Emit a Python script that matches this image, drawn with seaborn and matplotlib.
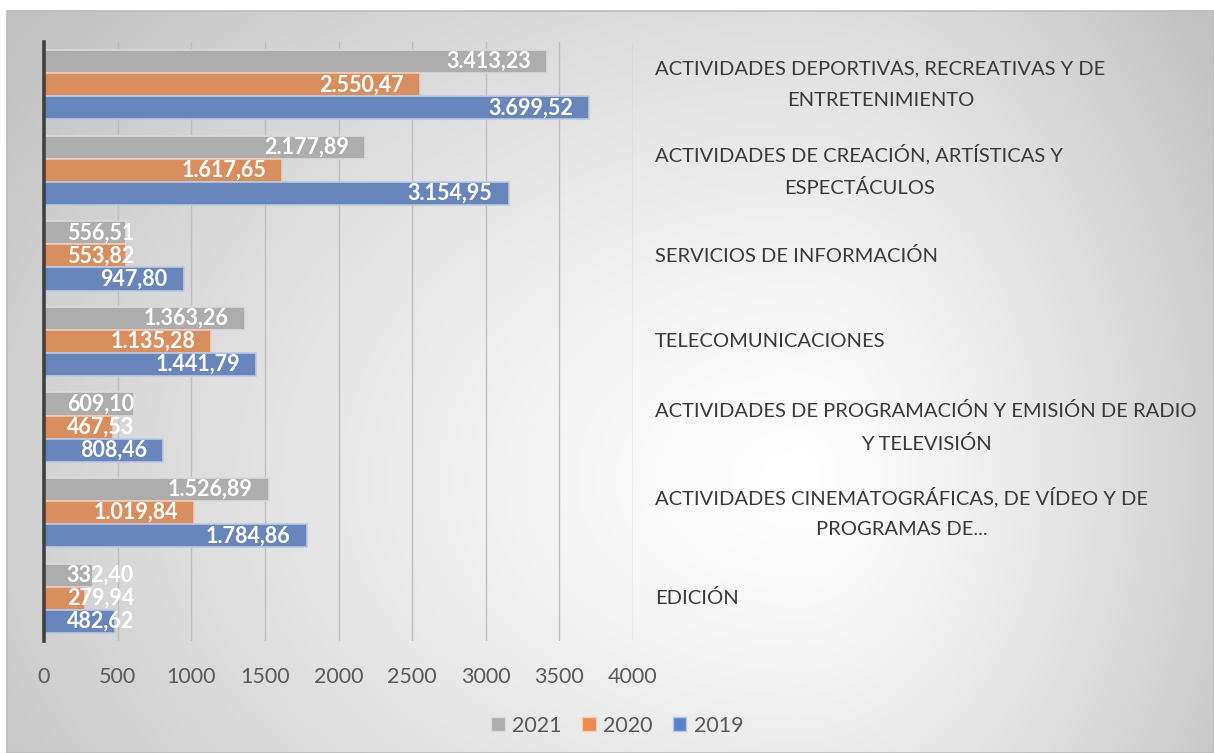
import numpy as np
import pandas as pd
import matplotlib.pyplot as plt
import seaborn as sns
from matplotlib.colors import to_rgb
from matplotlib.patches import Patch, Rectangle

# Data
categories = [
    'ACTIVIDADES DEPORTIVAS, RECREATIVAS Y DE\nENTRETENIMIENTO',
    'ACTIVIDADES DE CREACIÓN, ARTÍSTICAS Y\nESPECTÁCULOS',
    'SERVICIOS DE INFORMACIÓN',
    'TELECOMUNICACIONES',
    'ACTIVIDADES DE PROGRAMACIÓN Y EMISIÓN DE RADIO\nY TELEVISIÓN',
    'ACTIVIDADES CINEMATOGRÁFICAS, DE VÍDEO Y DE\nPROGRAMAS DE...',
    'EDICIÓN',
]
years = ['2021', '2020', '2019']
v2021 = [3413.23, 2177.89, 556.51, 1363.26, 609.10, 1526.89, 332.40]
v2020 = [2550.47, 1617.65, 553.82, 1135.28, 467.53, 1019.84, 279.94]
v2019 = [3699.52, 3154.95, 947.80, 1441.79, 808.46, 1784.86, 482.62]
xticks = [0, 500, 1000, 1500, 2000, 2500, 3000, 3500, 4000]

colors = {'2021': '#ADADAD', '2020': '#EC8A4B', '2019': '#5B82CA'}

df = pd.DataFrame({
    'cat': categories * 3,
    'year': np.repeat(years, len(categories)),
    'value': v2021 + v2020 + v2019,
})

W, H = 1214, 753
sns.set_theme(style='white')
plt.rcParams['font.family'] = ['Lato', 'DejaVu Sans']

fig = plt.figure(figsize=(W / 100, H / 100), dpi=100)

# radial grey background of the chart area
bw, bh = W - 7, H - 11
cols, rows = np.meshgrid(np.arange(bw) + 7, np.arange(bh) + 11)
cx, cy = 800, 480
dx = np.where(cols < cx, (cols - cx) / 820, (cols - cx) / 430)
dy = np.where(rows < cy, (rows - cy) / 620, (rows - cy) / 560)
d = np.sqrt(dx ** 2 + dy ** 2)
g = 255 - 62 * np.clip(d / 1.2, 0, 1) ** 1.3
bg = np.dstack([g, g, g]) / 255
fig.figimage(bg, xo=7, yo=0, origin='upper', zorder=-5)
fig.add_artist(Rectangle((7 / W, 0), 1 - 7 / W, 1 - 11 / H, transform=fig.transFigure,
                         fill=False, edgecolor='#BBBBBB', lw=1.2, zorder=-4))

ax = fig.add_axes([44 / W, 1 - 641 / H, (633 - 44) / W, (641 - 42) / H])
ax.set_facecolor('none')

sns.barplot(data=df, y='cat', x='value', hue='year', hue_order=years, order=categories,
            palette=colors, orient='h', width=0.81, linewidth=1.2, legend=False, ax=ax)

for p in ax.patches:
    fc = np.array(p.get_facecolor()[:3])
    p.set_edgecolor(tuple(fc + (1 - fc) * 0.55))

ax.set_xlim(0, 4000)
ax.set_xticks(xticks)
ax.set_xticklabels([str(t) for t in xticks])
ax.set_xlabel('')
ax.set_ylabel('')
ax.grid(axis='x', color='#BDBDBD', lw=1)
ax.set_axisbelow(True)
for s in ['top', 'right', 'bottom']:
    ax.spines[s].set_visible(False)
ax.spines['left'].set_color('#404040')
ax.spines['left'].set_linewidth(2.6)
ax.spines['left'].set_zorder(5)

ax.yaxis.tick_right()
ax.tick_params(axis='y', length=0, pad=16, labelsize=14.5, labelcolor='#3A3A3A')
ax.tick_params(axis='x', length=0, pad=19, labelsize=15.5, labelcolor='#595959')


def fmt(v):
    s = f'{v:,.2f}'
    return s.replace(',', 'X').replace('.', ',').replace('X', '.')


labels = []
for cont, year in zip(ax.containers, years):
    for bar in cont:
        v = bar.get_width()
        yc = bar.get_y() + bar.get_height() / 2
        t = ax.annotate(fmt(v), xy=(v, yc), xytext=(-16 * 0.72, 0), textcoords='offset points',
                        ha='right', va='center', color='white', fontsize=15.5, fontweight='bold',
                        zorder=6)
        labels.append((t, yc))

fig.canvas.draw()
x0px = ax.transData.transform((0, 0))[0]
for t, yc in labels:
    bb = t.get_window_extent()
    if bb.x0 < x0px + 22.7:
        t.xy = (0, yc)
        t.set_ha('left')
        t.xyann = (22.7 * 0.72, 0)

for tick in ax.yaxis.get_major_ticks():
    tick.label2.set_multialignment('center')
    tick.label2.set_linespacing(2.0)
    tick.label2.set_verticalalignment('center')

handles = [Patch(facecolor=colors[y], edgecolor=tuple(np.array(to_rgb(colors[y])) * 0.45 + 0.55), label=y)
           for y in years]
fig.legend(handles=handles, loc='center', bbox_to_anchor=(617.5 / W, 1 - 726 / H), ncol=3,
           frameon=False, fontsize=15.5, handlelength=0.62, handleheight=0.62,
           columnspacing=0.95, handletextpad=0.35, labelcolor='#595959')

fig.savefig('out.png', dpi=100)
